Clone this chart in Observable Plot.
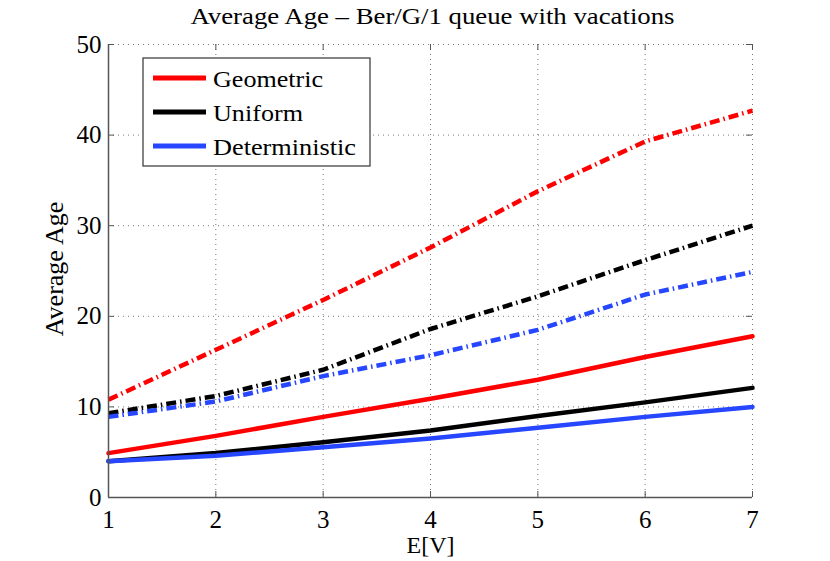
<!DOCTYPE html>
<html>
<head>
<meta charset="utf-8">
<script src="https://cdn.jsdelivr.net/npm/d3@7"></script>
<script src="https://cdn.jsdelivr.net/npm/@observablehq/plot@0.6"></script>
<style>
  html, body { margin: 0; padding: 0; background: #fff; }
  #chart svg { font-family: "Liberation Serif", "Times New Roman", serif; }
</style>
</head>
<body>
<div id="chart"></div>
<script>
// E[V] values
const ev = [1, 2, 3, 4, 5, 6, 7];
// Solid curves
const geometricSolid     = [4.9, 6.8, 8.9, 10.9, 13.0, 15.5, 17.8];
const uniformSolid       = [4.0, 4.9, 6.1, 7.4, 9.0, 10.5, 12.1];
const deterministicSolid = [4.0, 4.6, 5.55, 6.5, 7.7, 8.9, 10.0];
// Dash-dot curves
const geometricDashDot     = [10.8, 16.3, 21.8, 27.6, 33.8, 39.3, 42.7];
const uniformDashDot       = [9.3, 11.2, 14.1, 18.6, 22.2, 26.2, 30.0];
const deterministicDashDot = [8.9, 10.6, 13.4, 15.7, 18.5, 22.4, 24.9];

const xTicks = [1, 2, 3, 4, 5, 6, 7];
const yTicks = [0, 10, 20, 30, 40, 50];
const seriesNames = ["Geometric", "Uniform", "Deterministic"];
const seriesColors = ["#ff0000", "#000000", "#2646ff"];

const titleText = "Average Age \u2013 Ber/G/1 queue with vacations";
const xLabel = "E[V]";
const yLabel = "Average Age";

function rows(values, series, style) {
  return ev.map((x, i) => ({x, y: values[i], series, style}));
}
const solidData = [
  ...rows(geometricSolid, "Geometric", "solid"),
  ...rows(uniformSolid, "Uniform", "solid"),
  ...rows(deterministicSolid, "Deterministic", "solid")
];
const dashData = [
  ...rows(geometricDashDot, "Geometric", "dashdot"),
  ...rows(uniformDashDot, "Uniform", "dashdot"),
  ...rows(deterministicDashDot, "Deterministic", "dashdot")
];

const W = 830, H = 561;
const mL = 108, mR = 78, mT = 44, mB = 64;
const frameW = W - mL - mR, frameH = H - mT - mB;
const axisColor = "#555";
const gridColor = "#777";

const chart = Plot.plot({
  width: W,
  height: H,
  marginLeft: mL,
  marginRight: mR,
  marginTop: mT,
  marginBottom: mB,
  style: {fontFamily: '"Liberation Serif", "Times New Roman", serif', background: "#fff"},
  x: {domain: [1, 7], ticks: xTicks},
  y: {domain: [0, 50], ticks: yTicks},
  color: {domain: seriesNames, range: seriesColors},
  marks: [
    Plot.ruleX(xTicks, {stroke: gridColor, strokeDasharray: "1,4", strokeWidth: 1}),
    Plot.ruleY(yTicks, {stroke: gridColor, strokeDasharray: "1,4", strokeWidth: 1}),
    // inward ticks
    Plot.ruleX(xTicks, {stroke: axisColor, insetTop: frameH - 6}),
    Plot.ruleX(xTicks, {stroke: axisColor, insetBottom: frameH - 6}),
    Plot.ruleY(yTicks, {stroke: axisColor, insetRight: frameW - 6}),
    Plot.ruleY(yTicks, {stroke: axisColor, insetLeft: frameW - 6}),
    Plot.axisX({ticks: xTicks, tickSize: 0, tickPadding: 13, fontSize: 25, label: null, tickFormat: d3.format("d")}),
    Plot.axisY({ticks: yTicks, tickSize: 0, tickPadding: 7, fontSize: 25, label: null, tickFormat: d3.format("d")}),
    Plot.line(dashData, {x: "x", y: "y", z: "series", stroke: "series", strokeWidth: 4.5, strokeDasharray: "10,4,1.5,4", strokeLinecap: "butt", curve: "linear"}),
    Plot.line(solidData, {x: "x", y: "y", z: "series", stroke: "series", strokeWidth: 4.5, curve: "linear"}),
    Plot.ruleX([1], {stroke: axisColor, strokeWidth: 1.5}),
    Plot.ruleY([0], {stroke: axisColor, strokeWidth: 1.5}),
    Plot.text([titleText], {frameAnchor: "top", textAnchor: "middle", lineAnchor: "bottom", dx: 2, dy: -21, fontSize: 24, fill: "#000", className: "ttl"}),
    Plot.text([xLabel], {frameAnchor: "bottom", textAnchor: "middle", lineAnchor: "bottom", dy: 55, fontSize: 24, fill: "#000"}),
    Plot.text([yLabel], {frameAnchor: "left", textAnchor: "middle", lineAnchor: "bottom", rotate: -90, dx: -46, dy: -2, fontSize: 26, fill: "#000"})
  ]
});

const svg = d3.select(chart);
// stretch title to the reference's width
svg.selectAll("text").filter(function() { return this.textContent === titleText; })
  .attr("textLength", 484).attr("lengthAdjust", "spacingAndGlyphs");

// Legend box inside the plot
const lg = svg.append("g").attr("class", "legend").attr("text-anchor", "start");
const lx = 143, ly = 58, lw = 227, lh = 108;
const legendWidths = [110, 90, 143];
lg.append("rect").attr("x", lx).attr("y", ly).attr("width", lw).attr("height", lh)
  .attr("fill", "#fff").attr("stroke", "#333").attr("stroke-width", 1.2);
seriesNames.forEach((name, i) => {
  const yy = ly + 20 + i * 34;
  lg.append("line").attr("x1", lx + 10).attr("x2", lx + 63).attr("y1", yy).attr("y2", yy)
    .attr("stroke", seriesColors[i]).attr("stroke-width", 5);
  lg.append("text").attr("x", lx + 70).attr("y", yy + 9)
    .attr("font-size", 23).attr("fill", "#000")
    .attr("textLength", legendWidths[i]).attr("lengthAdjust", "spacingAndGlyphs")
    .text(name);
});

document.getElementById("chart").appendChild(chart);
</script>
</body>
</html>
